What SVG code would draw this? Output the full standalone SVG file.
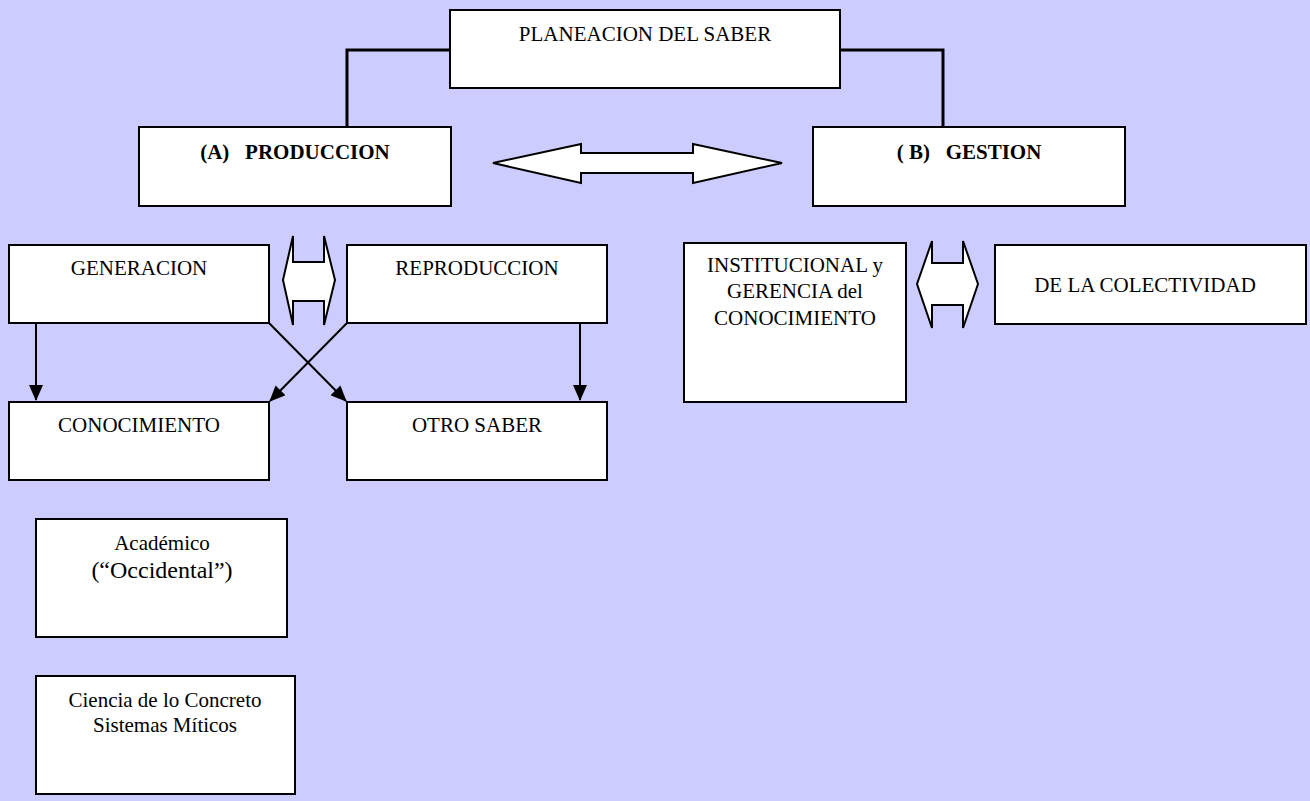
<svg xmlns="http://www.w3.org/2000/svg" width="1310" height="801" viewBox="0 0 1310 801">
<style>
.box{fill:#fff;stroke:#000;stroke-width:2}
.t{font-family:"Liberation Serif","Times New Roman",serif;font-size:21px;fill:#000;text-anchor:middle}
.b{font-weight:bold}
.conn{fill:none;stroke:#000;stroke-width:3}
.ln{fill:none;stroke:#000;stroke-width:2}
.dbl{fill:#fff;stroke:#000;stroke-width:2;stroke-linejoin:miter}
</style>
<defs>
<marker id="ah" viewBox="0 0 16 14" refX="15" refY="7" markerWidth="16" markerHeight="14" markerUnits="userSpaceOnUse" orient="auto">
<path d="M0,0 L16,7 L0,14 z" fill="#000"/>
</marker>
</defs>
<rect width="1310" height="801" fill="#CCCCFF"/>
<g id="connectors">
<path class="conn" d="M450,50 H347 V127"/>
<path class="conn" d="M840,50 H943 V127"/>
<line class="ln" x1="36" y1="323" x2="36" y2="400" marker-end="url(#ah)"/>
<line class="ln" x1="580" y1="323" x2="580" y2="400" marker-end="url(#ah)"/>
<line class="ln" x1="269" y1="323" x2="346" y2="401" marker-end="url(#ah)"/>
<line class="ln" x1="347" y1="323" x2="270" y2="401" marker-end="url(#ah)"/>
<polygon id="arrow-ab" class="dbl" points="493,163 581,144 581,153 693,153 693,144 782,163 693,183 693,173 581,173 581,183"/>
<polygon id="arrow-gen-rep" class="dbl" points="283,280 293,236 293,262 324,262 324,236 335,280 324,325 324,301 293,301 293,325"/>
<polygon id="arrow-inst-col" class="dbl" points="917,284 932,241 932,263 963,263 963,241 978,284 963,328 963,305 932,305 932,328"/>
</g>
<g id="planeacion"><rect class="box" x="450" y="10" width="390" height="78"/><text class="t" x="645" y="41">PLANEACION DEL SABER</text></g>
<g id="produccion"><rect class="box" x="139" y="127" width="312" height="79"/><text class="t b" x="295" y="159" xml:space="preserve">(A)   PRODUCCION</text></g>
<g id="gestion"><rect class="box" x="813" y="127" width="312" height="79"/><text class="t b" x="969" y="159" xml:space="preserve">( B)   GESTION</text></g>
<g id="generacion"><rect class="box" x="9" y="245" width="260" height="78"/><text class="t" x="139" y="275">GENERACION</text></g>
<g id="reproduccion"><rect class="box" x="347" y="245" width="260" height="78"/><text class="t" x="477" y="275">REPRODUCCION</text></g>
<g id="conocimiento"><rect class="box" x="9" y="402" width="260" height="78"/><text class="t" x="139" y="432">CONOCIMIENTO</text></g>
<g id="otro-saber"><rect class="box" x="347" y="402" width="260" height="78"/><text class="t" x="477" y="432">OTRO SABER</text></g>
<g id="institucional"><rect class="box" x="684" y="243" width="222" height="159"/><text class="t" x="795" y="272">INSTITUCIONAL y</text><text class="t" x="795" y="298">GERENCIA del</text><text class="t" x="795" y="325">CONOCIMIENTO</text></g>
<g id="colectividad"><rect class="box" x="995" y="245" width="311" height="79"/><text class="t" x="1145" y="292">DE LA COLECTIVIDAD</text></g>
<g id="academico"><rect class="box" x="36" y="519" width="251" height="118"/><text class="t" x="162" y="550">Académico</text><text class="t" x="162" y="578" style="font-size:24px">(“Occidental”)</text></g>
<g id="ciencia"><rect class="box" x="36" y="676" width="259" height="118"/><text class="t" x="165" y="707">Ciencia de lo Concreto</text><text class="t" x="165" y="732">Sistemas Míticos</text></g>
</svg>
